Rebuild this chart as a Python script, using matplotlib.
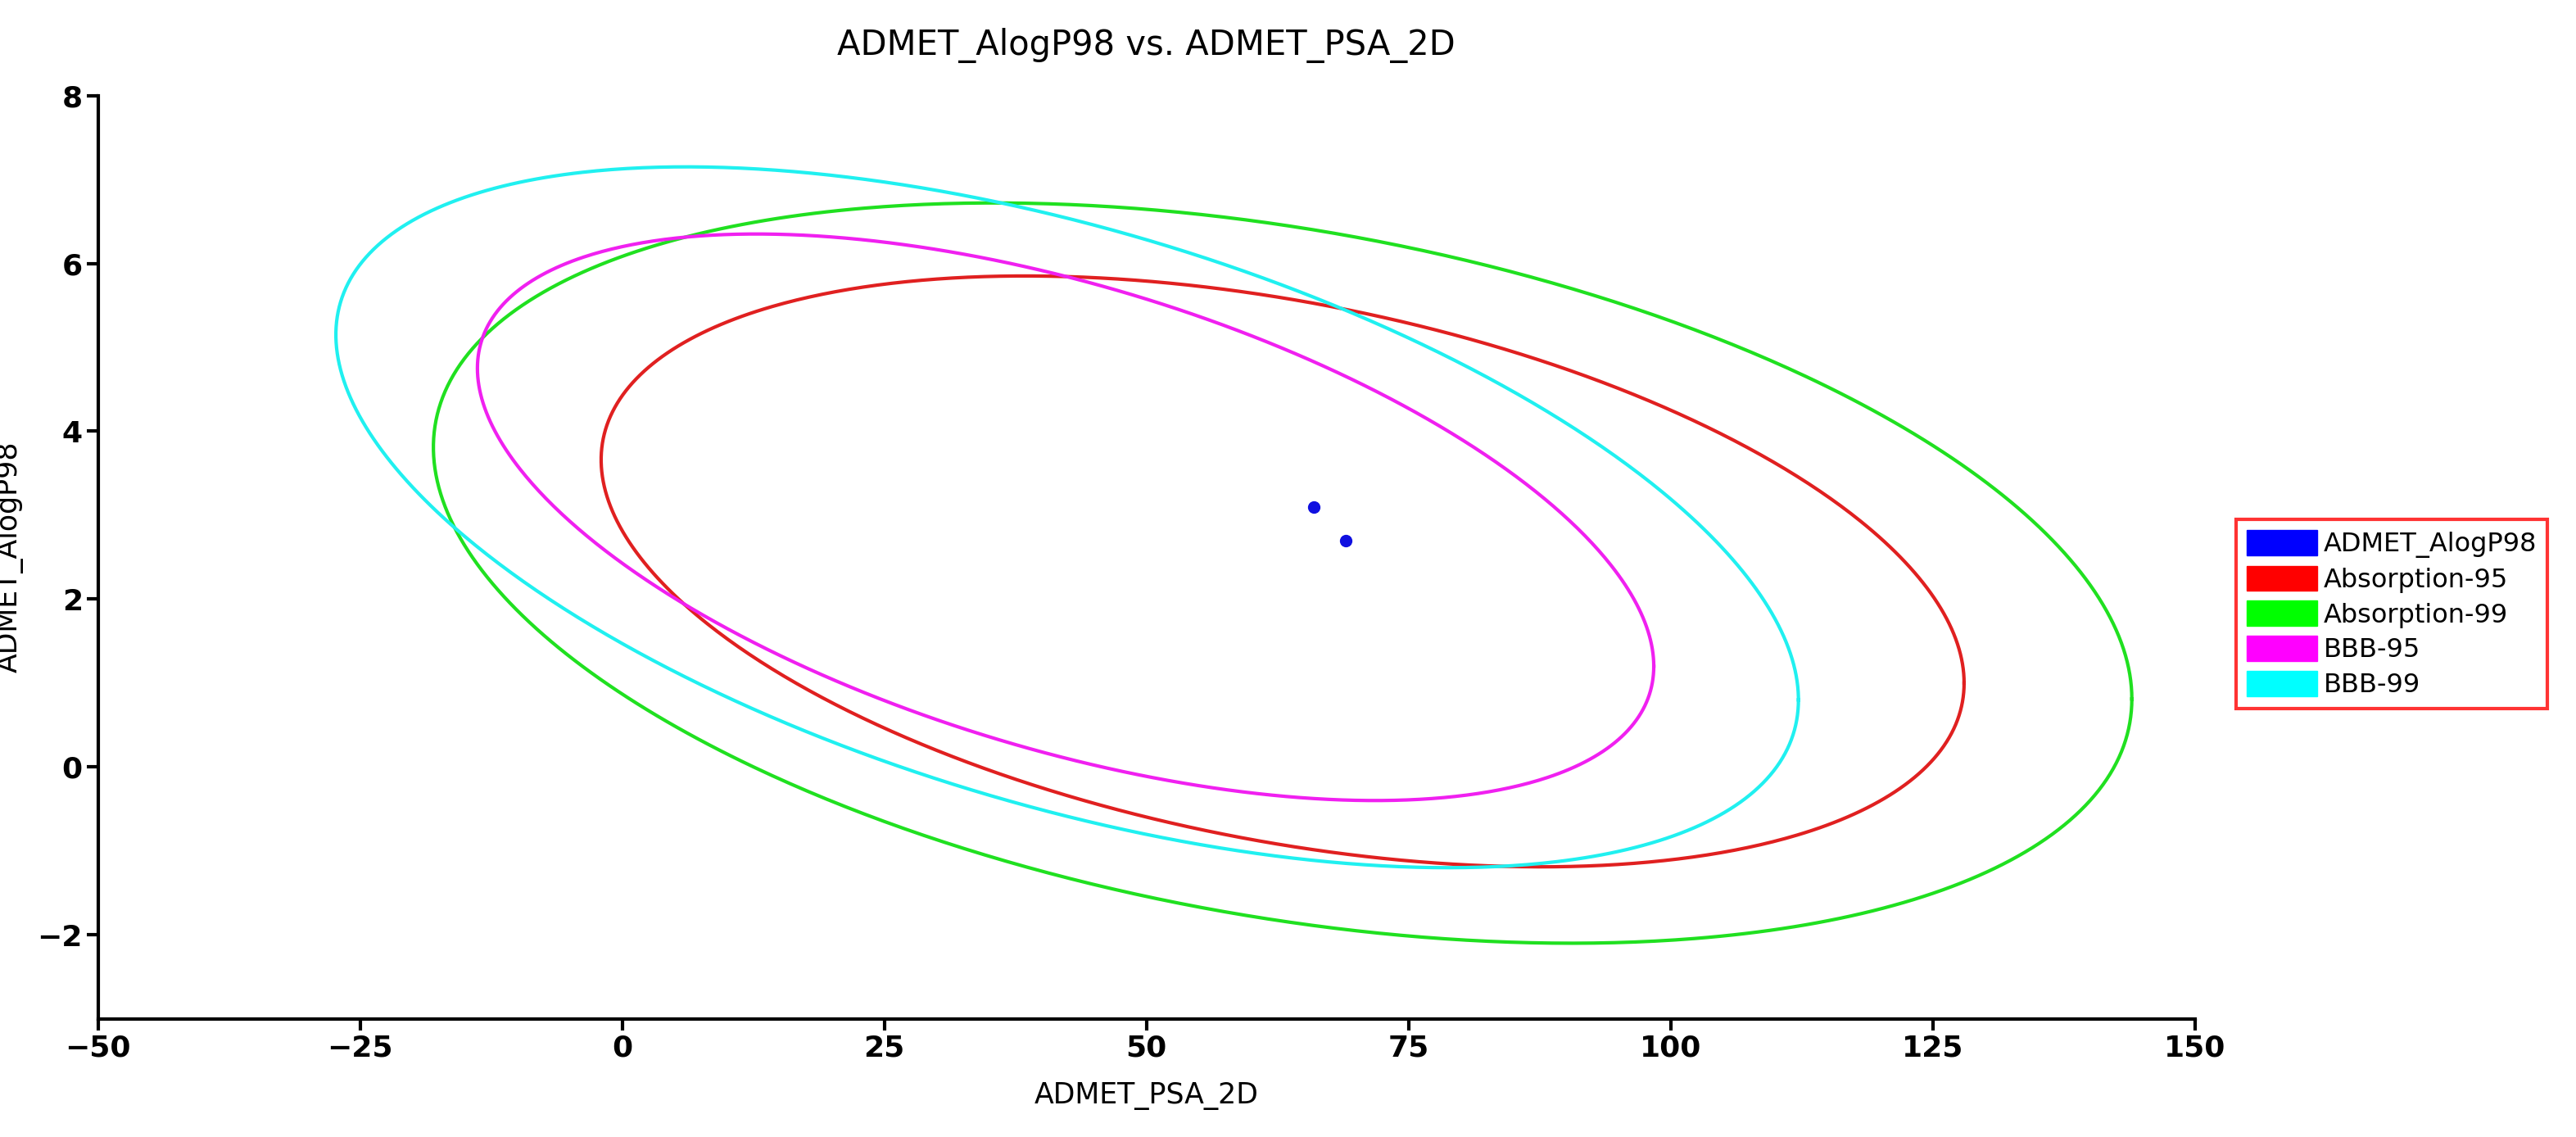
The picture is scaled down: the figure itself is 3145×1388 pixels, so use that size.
import numpy as np
import matplotlib
matplotlib.use("Agg")
import matplotlib.pyplot as plt
from matplotlib.patches import Patch

# Ellipse descriptions (data coords): center x, center y, x half-range, y half-range, cos(phase)
names = ["Absorption-95", "Absorption-99", "BBB-95", "BBB-99"]
colors = ["#e02020", "#20e020", "#f020f0", "#20f0f0"]
cx = [63.0, 63.0, 42.3, 42.45]
cy = [2.33, 2.31, 2.975, 2.975]
ax_x = [65.0, 81.0, 56.1, 69.75]
ax_y = [3.52, 4.41, 3.375, 4.175]
cosphi = [-0.378, -0.34, -0.526, -0.521]

pts_x = [66.0, 69.0]
pts_y = [3.1, 2.7]

fig = plt.figure(figsize=(31.45, 13.88), dpi=100)
ax = fig.add_axes([0.038, 0.104, 0.814, 0.812])
t = np.linspace(0, 2 * np.pi, 721)
for i in range(4):
    phi = np.arccos(cosphi[i])
    ax.plot(cx[i] + ax_x[i] * np.cos(t), cy[i] + ax_y[i] * np.cos(t + phi),
            color=colors[i], lw=3)
ax.scatter(pts_x, pts_y, color="#1010e0", s=100, zorder=5)

ax.set_xlim(-50, 150)
ax.set_ylim(-3, 8)
ax.set_xticks([-50, -25, 0, 25, 50, 75, 100, 125, 150])
ax.set_yticks([-2, 0, 2, 4, 6, 8])
for s in ["top", "right"]:
    ax.spines[s].set_visible(False)
for s in ["left", "bottom"]:
    ax.spines[s].set_linewidth(3)
ax.tick_params(labelsize=26, width=3, length=10)
for lab in ax.get_xticklabels() + ax.get_yticklabels():
    lab.set_fontweight("bold")
ax.set_xlabel("ADMET_PSA_2D", fontsize=25, labelpad=18)
ax.set_ylabel("ADMET_AlogP98", fontsize=25, labelpad=12)
ax.set_title("ADMET_AlogP98 vs. ADMET_PSA_2D", fontsize=30, pad=36)

handles = [Patch(color="#0000ff", label="ADMET_AlogP98")] + \
          [Patch(color="#ff0000", label=names[0]), Patch(color="#00ff00", label=names[1]),
           Patch(color="#ff00ff", label=names[2]), Patch(color="#00ffff", label=names[3])]
leg = fig.legend(handles=handles, loc="center left", bbox_to_anchor=(0.863, 0.46),
                 fontsize=23, frameon=True, fancybox=False, handlelength=2.7,
                 handleheight=1.1, labelspacing=0.3, handletextpad=0.25, borderpad=0.4)
leg.get_frame().set_edgecolor("#ff0000")
leg.get_frame().set_linewidth(3)
fig.savefig("out.png", dpi=100)
